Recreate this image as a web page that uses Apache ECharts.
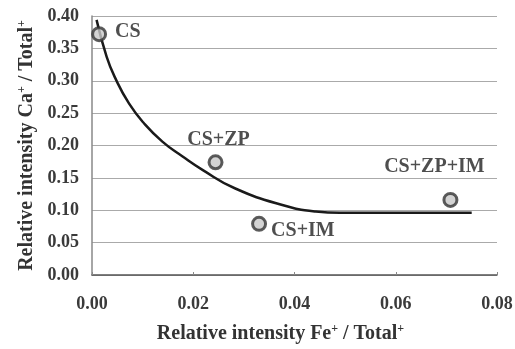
<!DOCTYPE html>
<html><head><meta charset="utf-8">
<script src="https://cdn.jsdelivr.net/npm/echarts@6/dist/echarts.min.js"></script>
<style>html,body{margin:0;padding:0;background:#fff}#c{width:515px;height:349px}</style>
</head><body><div id="c"></div>
<script>
const sampleNames = ['CS', 'CS+ZP', 'CS+IM', 'CS+ZP+IM'];
const feValues = [0.0014, 0.0244, 0.0330, 0.0708];
const caValues = [0.372, 0.174, 0.079, 0.116];
const curveX = [0.0009, 0.0029, 0.0046, 0.0073, 0.0103, 0.0139, 0.0179, 0.0219, 0.0282, 0.0376, 0.0442, 0.0490, 0.0750];
const curveY = [0.394, 0.337, 0.304, 0.265, 0.234, 0.206, 0.183, 0.162, 0.134, 0.108, 0.098, 0.096, 0.096];
const xTicks = [0, 0.02, 0.04, 0.06, 0.08];
const yTicks = [0, 0.05, 0.10, 0.15, 0.20, 0.25, 0.30, 0.35, 0.40];

const FONT = '"Liberation Serif", "DejaVu Serif", serif';
const labelPos = [
  {position: 'right', offset: [3, -2]},
  {position: 'top', offset: [3, 0]},
  {position: 'right', offset: [-1, 7]},
  {position: 'top', offset: [-16, -10]}
];
const chart = echarts.init(document.getElementById('c'));
chart.setOption({
  animation: false,
  grid: {left: 92, right: 18, top: 16, bottom: 74, containLabel: false, outerBoundsMode: 'none'},
  xAxis: {
    type: 'value', min: xTicks[0], max: xTicks[xTicks.length - 1], interval: 0.02,
    name: 'Relative intensity Fe{s|+} / Total{s|+}',
    nameLocation: 'middle', nameGap: 48,
    nameTextStyle: {fontFamily: FONT, fontWeight: 'bold', fontSize: 20, color: '#333', padding: [0, 28, 0, 0],
      rich: {s: {fontFamily: FONT, fontWeight: 'bold', fontSize: 12, color: '#333', verticalAlign: 'top', padding: [0, 0, 9, 0]}}},
    axisLine: {lineStyle: {color: '#555', width: 1.5}},
    axisTick: {show: true, length: 3, inside: true, lineStyle: {color: '#888'}},
    axisLabel: {fontFamily: FONT, fontWeight: 'bold', fontSize: 18, color: '#3a3a3a', margin: 20,
      formatter: v => v.toFixed(2)},
    splitLine: {show: false}
  },
  yAxis: {
    type: 'value', min: yTicks[0], max: yTicks[yTicks.length - 1], interval: 0.05,
    name: 'Relative intensity Ca{s|+} / Total{s|+}',
    nameLocation: 'middle', nameGap: 55, nameRotate: 90,
    nameTextStyle: {fontFamily: FONT, fontWeight: 'bold', fontSize: 20, color: '#333',
      rich: {s: {fontFamily: FONT, fontWeight: 'bold', fontSize: 12, color: '#333', verticalAlign: 'top', padding: [0, 0, 9, 0]}}},
    axisLine: {show: true, lineStyle: {color: '#888', width: 1.5}},
    axisTick: {show: false},
    axisLabel: {fontFamily: FONT, fontWeight: 'bold', fontSize: 18, color: '#3a3a3a', margin: 13,
      formatter: v => v.toFixed(2)},
    splitLine: {show: true, lineStyle: {color: '#aaa', width: 1}}
  },
  series: [
    {
      type: 'line', smooth: true, symbol: 'none', z: 2,
      data: curveX.map((x, i) => [x, curveY[i]]),
      lineStyle: {color: '#1a1a1a', width: 2.5}
    },
    {
      type: 'scatter', z: 3, symbol: 'circle', symbolSize: 13,
      data: feValues.map((x, i) => ({value: [x, caValues[i]], name: sampleNames[i],
        label: Object.assign({show: true, formatter: '{b}', fontFamily: FONT, fontWeight: 'bold', fontSize: 20, color: '#222'}, labelPos[i])})),
      itemStyle: {color: '#c8c8c8', borderColor: '#333', borderWidth: 3}
    }
  ]
});
</script></body></html>
